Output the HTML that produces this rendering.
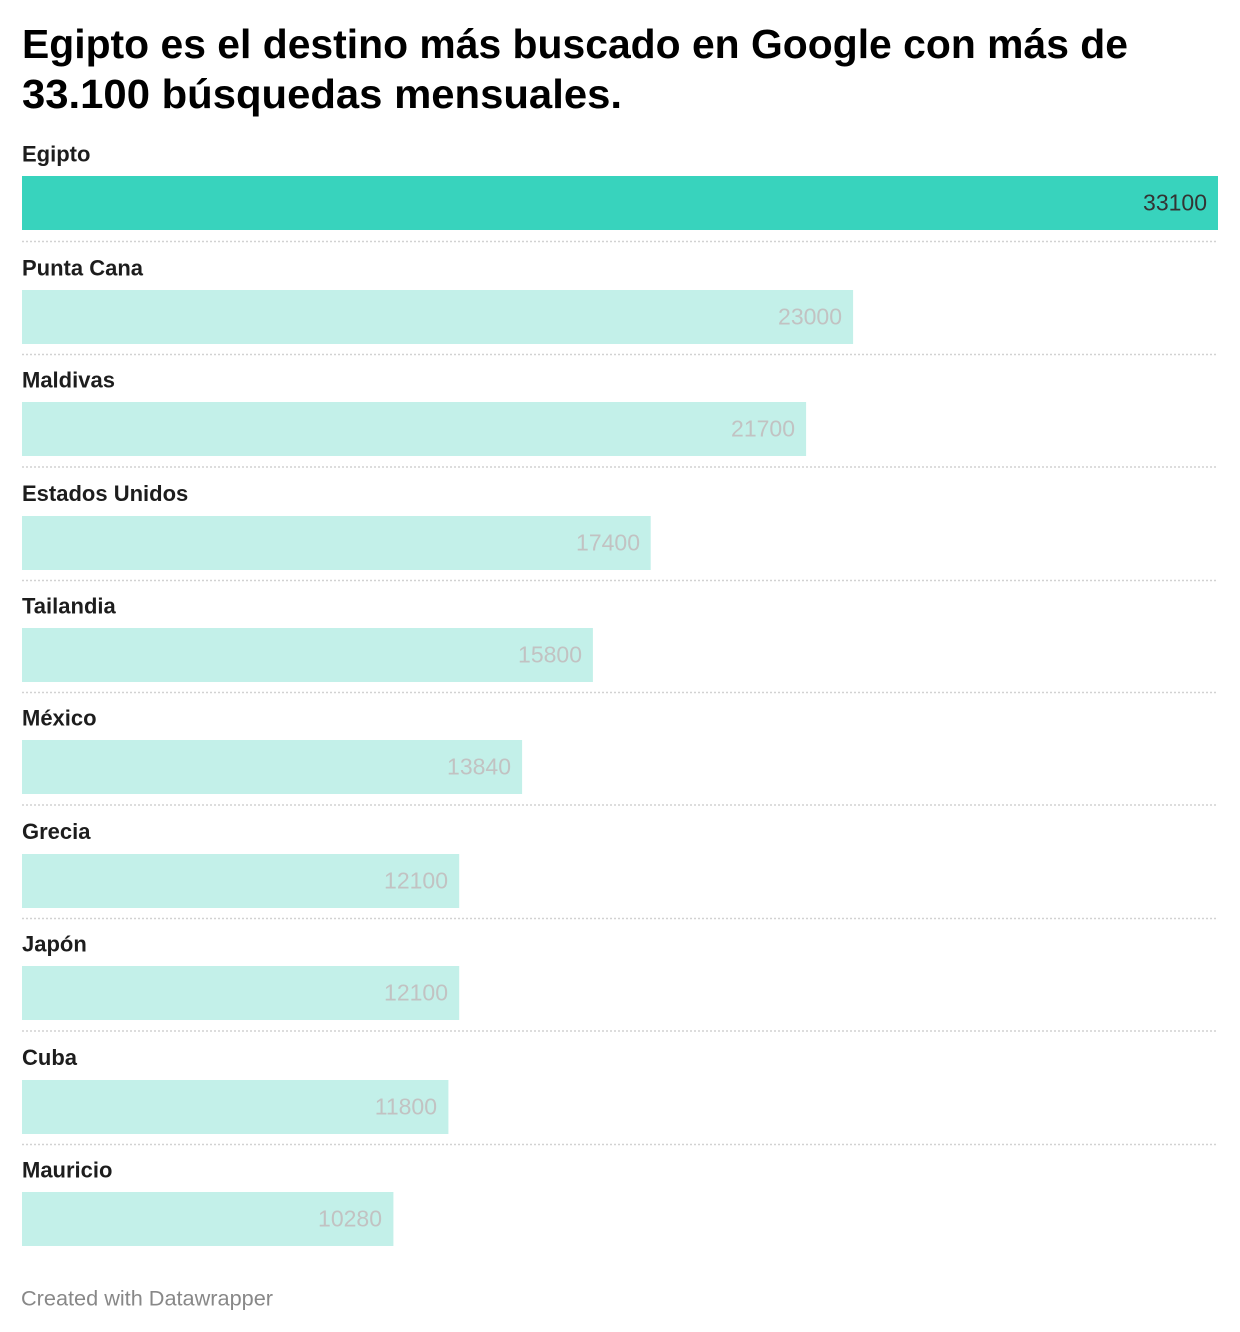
<!DOCTYPE html>
<html>
<head>
<meta charset="utf-8">
<style>
  html, body { margin: 0; padding: 0; background: #ffffff; }
  body { width: 1240px; height: 1332px; overflow: hidden; }
  svg { display: block; }
  .title { font-family: "Liberation Sans", sans-serif; font-weight: bold; font-size: 41px; fill: #000000; }
  .lab { font-family: "Liberation Sans", sans-serif; font-weight: bold; font-size: 22px; fill: #1d1d1d; }
  .val { font-family: "Liberation Sans", sans-serif; font-size: 23px; fill: #c2c2c2; }
  .valmain { font-family: "Liberation Sans", sans-serif; font-size: 23px; fill: #333333; }
  .foot { font-family: "Liberation Sans", sans-serif; font-size: 21px; fill: #888888; }
</style>
</head>
<body>
<svg width="1240" height="1332" viewBox="0 0 1240 1332" xmlns="http://www.w3.org/2000/svg">
  <rect x="0" y="0" width="1240" height="1332" fill="#ffffff"/>

  <text class="title" x="22" y="58" textLength="1106" lengthAdjust="spacingAndGlyphs">Egipto es el destino más buscado en Google con más de</text>
  <text class="title" x="22" y="108" textLength="600" lengthAdjust="spacingAndGlyphs">33.100 búsquedas mensuales.</text>

  <!-- Egipto -->
  <text class="lab" x="22" y="161.5">Egipto</text>
  <rect x="22" y="176" width="1196" height="54" fill="#38d3bd"/>
  <text class="valmain" x="1207" y="210.5" text-anchor="end">33100</text>
  <line x1="22" y1="241.5" x2="1218" y2="241.5" stroke="#d2d2d2" stroke-width="1.5" stroke-dasharray="2 2"/>

  <!-- Punta Cana -->
  <text class="lab" x="22" y="275.5">Punta Cana</text>
  <rect x="22" y="290" width="831.1" height="54" fill="#c3f0e9"/>
  <text class="val" x="842" y="324.5" text-anchor="end">23000</text>
  <line x1="22" y1="354.5" x2="1218" y2="354.5" stroke="#d2d2d2" stroke-width="1.5" stroke-dasharray="2 2"/>

  <!-- Maldivas -->
  <text class="lab" x="22" y="387.5">Maldivas</text>
  <rect x="22" y="402" width="784.1" height="54" fill="#c3f0e9"/>
  <text class="val" x="795" y="436.5" text-anchor="end">21700</text>
  <line x1="22" y1="467" x2="1218" y2="467" stroke="#d2d2d2" stroke-width="1.5" stroke-dasharray="2 2"/>

  <!-- Estados Unidos -->
  <text class="lab" x="22" y="501">Estados Unidos</text>
  <rect x="22" y="516" width="628.7" height="54" fill="#c3f0e9"/>
  <text class="val" x="640" y="550.5" text-anchor="end">17400</text>
  <line x1="22" y1="580.5" x2="1218" y2="580.5" stroke="#d2d2d2" stroke-width="1.5" stroke-dasharray="2 2"/>

  <!-- Tailandia -->
  <text class="lab" x="22" y="613.5">Tailandia</text>
  <rect x="22" y="628" width="570.9" height="54" fill="#c3f0e9"/>
  <text class="val" x="582" y="662.5" text-anchor="end">15800</text>
  <line x1="22" y1="692.5" x2="1218" y2="692.5" stroke="#d2d2d2" stroke-width="1.5" stroke-dasharray="2 2"/>

  <!-- México -->
  <text class="lab" x="22" y="725.5">México</text>
  <rect x="22" y="740" width="500.1" height="54" fill="#c3f0e9"/>
  <text class="val" x="511" y="774.5" text-anchor="end">13840</text>
  <line x1="22" y1="805" x2="1218" y2="805" stroke="#d2d2d2" stroke-width="1.5" stroke-dasharray="2 2"/>

  <!-- Grecia -->
  <text class="lab" x="22" y="839">Grecia</text>
  <rect x="22" y="854" width="437.2" height="54" fill="#c3f0e9"/>
  <text class="val" x="448" y="888.5" text-anchor="end">12100</text>
  <line x1="22" y1="918.5" x2="1218" y2="918.5" stroke="#d2d2d2" stroke-width="1.5" stroke-dasharray="2 2"/>

  <!-- Japón -->
  <text class="lab" x="22" y="951.5">Japón</text>
  <rect x="22" y="966" width="437.2" height="54" fill="#c3f0e9"/>
  <text class="val" x="448" y="1000.5" text-anchor="end">12100</text>
  <line x1="22" y1="1031" x2="1218" y2="1031" stroke="#d2d2d2" stroke-width="1.5" stroke-dasharray="2 2"/>

  <!-- Cuba -->
  <text class="lab" x="22" y="1065">Cuba</text>
  <rect x="22" y="1080" width="426.4" height="54" fill="#c3f0e9"/>
  <text class="val" x="437" y="1114.5" text-anchor="end">11800</text>
  <line x1="22" y1="1144.5" x2="1218" y2="1144.5" stroke="#d2d2d2" stroke-width="1.5" stroke-dasharray="2 2"/>

  <!-- Mauricio -->
  <text class="lab" x="22" y="1177.5">Mauricio</text>
  <rect x="22" y="1192" width="371.4" height="54" fill="#c3f0e9"/>
  <text class="val" x="382" y="1226.5" text-anchor="end">10280</text>

  <text class="foot" x="21" y="1305.5" textLength="252" lengthAdjust="spacingAndGlyphs">Created with Datawrapper</text>
</svg>
</body>
</html>
